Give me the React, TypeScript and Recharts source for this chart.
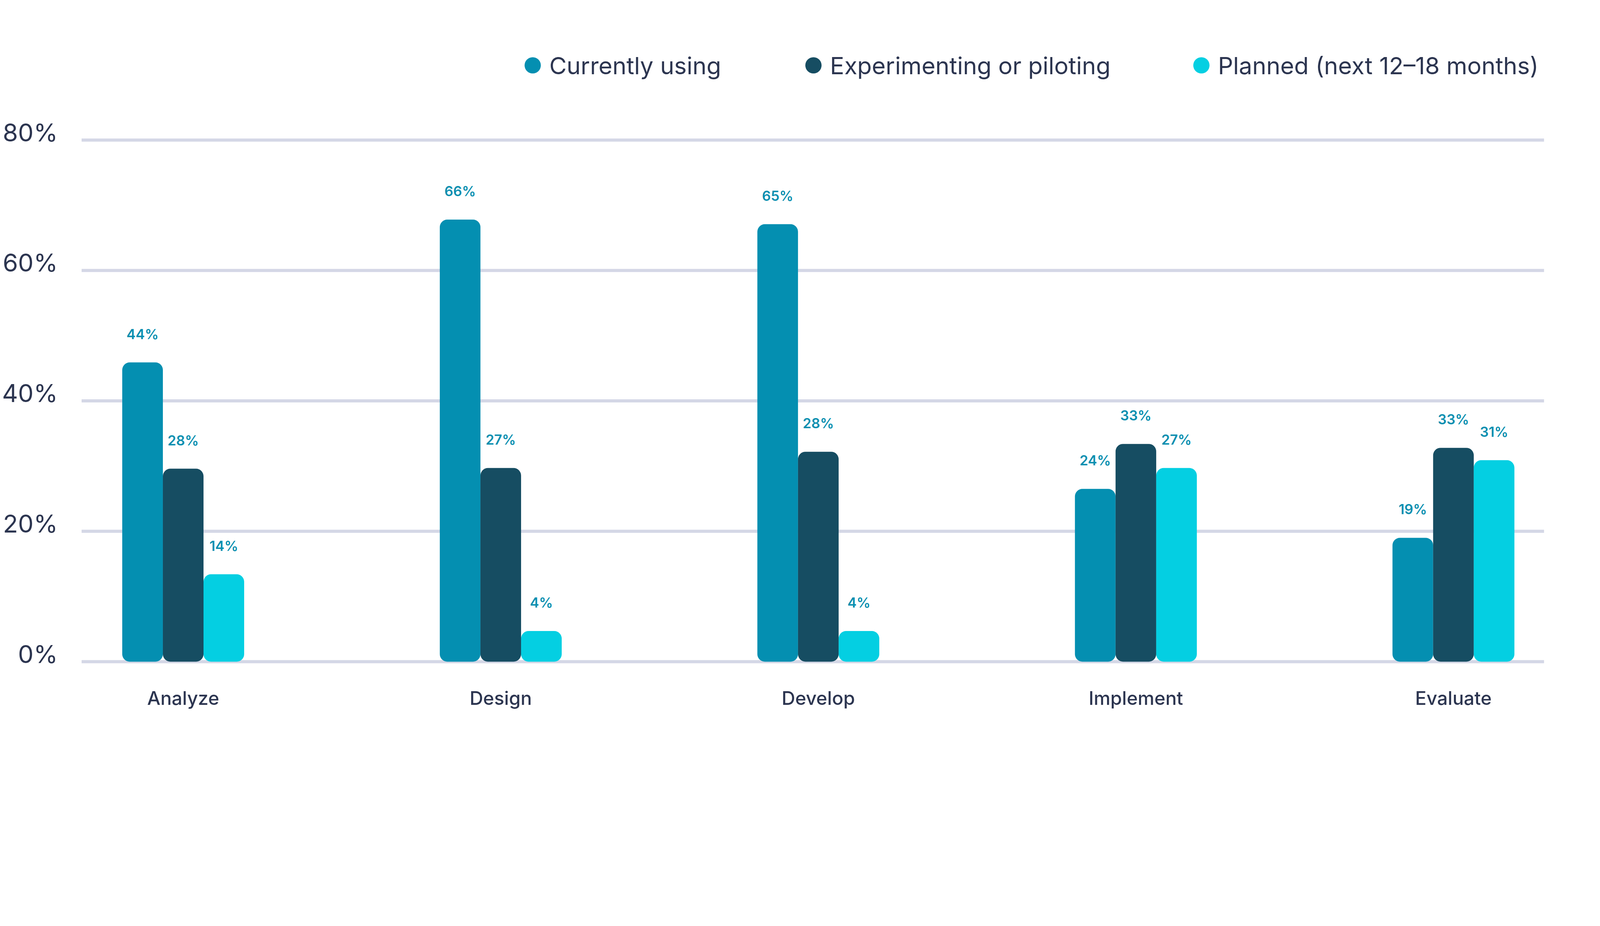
import { Bar, BarChart, CartesianGrid, LabelList, Legend, XAxis, YAxis } from 'recharts';

const stages = ['Analyze', 'Design', 'Develop', 'Implement', 'Evaluate'];

// bar heights as drawn in the source (they sit slightly off the printed numbers)
const currentlyUsing = [45.9, 67.8, 67.1, 26.5, 19.0];
const experimenting = [29.6, 29.7, 32.2, 33.4, 32.8];
const planned = [13.4, 4.7, 4.7, 29.7, 30.9];

// printed value labels
const currentlyLabels = ['44%', '66%', '65%', '24%', '19%'];
const experimentingLabels = ['28%', '27%', '28%', '33%', '33%'];
const plannedLabels = ['14%', '4%', '4%', '27%', '31%'];

const yTicks = [0, 20, 40, 60, 80];

const series = [
  { key: 'current', name: 'Currently using', color: '#048fb1', label: 'currentLabel', slot: 898 },
  { key: 'experimenting', name: 'Experimenting or piloting', color: '#164d62', label: 'experimentingLabel', slot: 1241 },
  { key: 'planned', name: 'Planned (next 12–18 months)', color: '#04cfe2', label: 'plannedLabel', slot: 1300 },
];

const data = stages.map((stage, i) => ({
  stage,
  current: currentlyUsing[i],
  experimenting: experimenting[i],
  planned: planned[i],
  currentLabel: currentlyLabels[i],
  experimentingLabel: experimentingLabels[i],
  plannedLabel: plannedLabels[i],
}));

const W = 5118;
const H = 2370;
const FONT = 'Inter, "Noto Sans", sans-serif';
const TEXT = '#2c3550';

function YTick({ x, y, payload }: any) {
  return (
    <text x={x} y={y + 4} textAnchor="end" fill={TEXT} fontSize={79} fontFamily={FONT}>
      {payload.value}%
    </text>
  );
}

function XTick({ x, y, payload }: any) {
  return (
    <text x={x} y={y + 138} textAnchor="middle" fill={TEXT} fontSize={60} fontWeight={500} fontFamily={FONT}>
      {payload.value}
    </text>
  );
}

function LegendContent() {
  return (
    <div style={{ display: 'flex', alignItems: 'center', height: 78, fontFamily: FONT }}>
      {series.map((s) => (
        <div key={s.key} style={{ display: 'flex', alignItems: 'center', width: s.slot, flexShrink: 0 }}>
          <span
            style={{ width: 52, height: 52, borderRadius: '50%', background: s.color, marginRight: 27, flexShrink: 0 }}
          />
          <span style={{ fontSize: 76, color: TEXT, whiteSpace: 'nowrap' }}>{s.name}</span>
        </div>
      ))}
    </div>
  );
}

export default function App() {
  // fit the fixed-size chart into the actual viewport
  const scale =
    typeof window !== 'undefined' ? Math.min(window.innerWidth / W, window.innerHeight / H, 1) : 1;
  return (
    <div
      style={{
        position: 'absolute',
        left: 0,
        top: 0,
        width: W * scale,
        height: H * scale,
        overflow: 'hidden',
        background: '#fff',
      }}
    >
      <div style={{ width: W, height: H, transform: `scale(${scale})`, transformOrigin: '0 0' }}>
        <BarChart
          width={W}
          height={H}
          data={data}
          margin={{ top: 448, right: 179, bottom: 0, left: 0 }}
          barSize={130}
          barGap={0}
        >
          <CartesianGrid vertical={false} stroke="#d4d7e6" strokeWidth={10} />
          <XAxis
            dataKey="stage"
            axisLine={false}
            tickLine={false}
            tickSize={0}
            tickMargin={0}
            height={254}
            interval={0}
            padding={{ left: -183, right: -218 }}
            tick={<XTick />}
          />
          <YAxis
            domain={[0, 80]}
            ticks={yTicks}
            axisLine={false}
            tickLine={false}
            tickSize={0}
            tickMargin={76}
            width={261}
            tick={<YTick />}
          />
          <Legend
            align="center"
            verticalAlign="middle"
            content={<LegendContent />}
            wrapperStyle={{ top: 170, left: 1678, width: 3440 }}
          />
          {series.map((s) => (
            <Bar
              key={s.key}
              dataKey={s.key}
              name={s.name}
              fill={s.color}
              radius={[24, 24, 24, 24]}
              isAnimationActive={false}
            >
              <LabelList
                dataKey={s.label}
                position="top"
                offset={75}
                fill="#0a8fb0"
                fontSize={44}
                fontWeight={600}
                fontFamily={FONT}
              />
            </Bar>
          ))}
        </BarChart>
      </div>
    </div>
  );
}
